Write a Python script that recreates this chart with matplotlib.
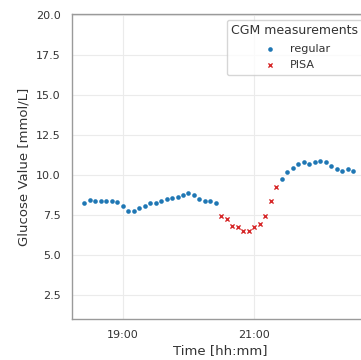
import numpy as np
import pandas as pd
import matplotlib
matplotlib.use("Agg")
import matplotlib.pyplot as plt
import matplotlib.dates as mdates
import seaborn as sns

# Valores de glucosa cada 5 minutos desde las 18:25
inicio = "2021-01-01 18:25"
glucosa = [8.24, 8.45, 8.36, 8.36, 8.36, 8.36, 8.28, 8.05, 7.73, 7.73,
           7.95, 8.07, 8.26, 8.26, 8.36, 8.47, 8.55, 8.64, 8.74, 8.85,
           8.74, 8.51, 8.36, 8.36, 8.26,
           7.44, 7.23, 6.83, 6.72, 6.51, 6.51, 6.72, 6.93, 7.44, 8.34, 9.27,
           9.75, 10.17, 10.46, 10.67, 10.78, 10.67, 10.78, 10.88, 10.78,
           10.57, 10.36, 10.25, 10.36, 10.25]
# Indices marcados como PISA
pisa = [25, 26, 27, 28, 29, 30, 31, 32, 33, 34, 35]

tiempos = pd.date_range(inicio, periods=len(glucosa), freq="5min")
datos = pd.DataFrame({"Tiempo": tiempos, "Glucosa": glucosa})
datos["PISA"] = False
datos.loc[pisa, "PISA"] = True

sns.set_style("whitegrid")
plt.rcParams["font.family"] = ["DejaVu Sans"]

fig = plt.figure(figsize=(3.61, 3.6), dpi=100)
ax = fig.add_axes([0.1986, 0.1139, 0.8208, 0.8472])

regular = datos[~datos["PISA"]]
marcados = datos[datos["PISA"]]
ax.scatter(regular["Tiempo"], regular["Glucosa"], s=11, color="#1f77b4",
           linewidths=0, label="regular", zorder=3)
ax.scatter(marcados["Tiempo"], marcados["Glucosa"], s=9, color="#d62728",
           marker="x", linewidths=1.0, label="PISA", zorder=3)

ax.set_ylim(1.0, 20.05)
ax.set_yticks([2.5, 5.0, 7.5, 10.0, 12.5, 15.0, 17.5, 20.0])
ax.set_xlim(pd.Timestamp("2021-01-01 18:13:30"), pd.Timestamp("2021-01-01 22:43:40"))
ax.xaxis.set_major_locator(mdates.HourLocator(byhour=[19, 21]))
ax.xaxis.set_major_formatter(mdates.DateFormatter("%H:%M"))

ax.tick_params(axis="both", length=0, pad=8, labelsize=8, labelcolor="#333333")
ax.grid(color="#ebebeb", linewidth=0.8)
for s in ax.spines.values():
    s.set_color("#9a9a9a")
    s.set_linewidth(1.0)

ax.set_xlabel("Time [hh:mm]", fontsize=9.5, color="#333333", labelpad=3)
ax.set_ylabel("Glucose Value [mmol/L]", fontsize=9.5, color="#333333", labelpad=4)

ley = ax.legend(title="CGM measurements", loc="upper right", fontsize=8,
                title_fontsize=9, frameon=True, borderaxespad=0.5,
                labelspacing=0.6)
ley.get_title().set_color("#333333")
for t in ley.get_texts():
    t.set_color("#333333")

fig.savefig("out.png", dpi=100)
